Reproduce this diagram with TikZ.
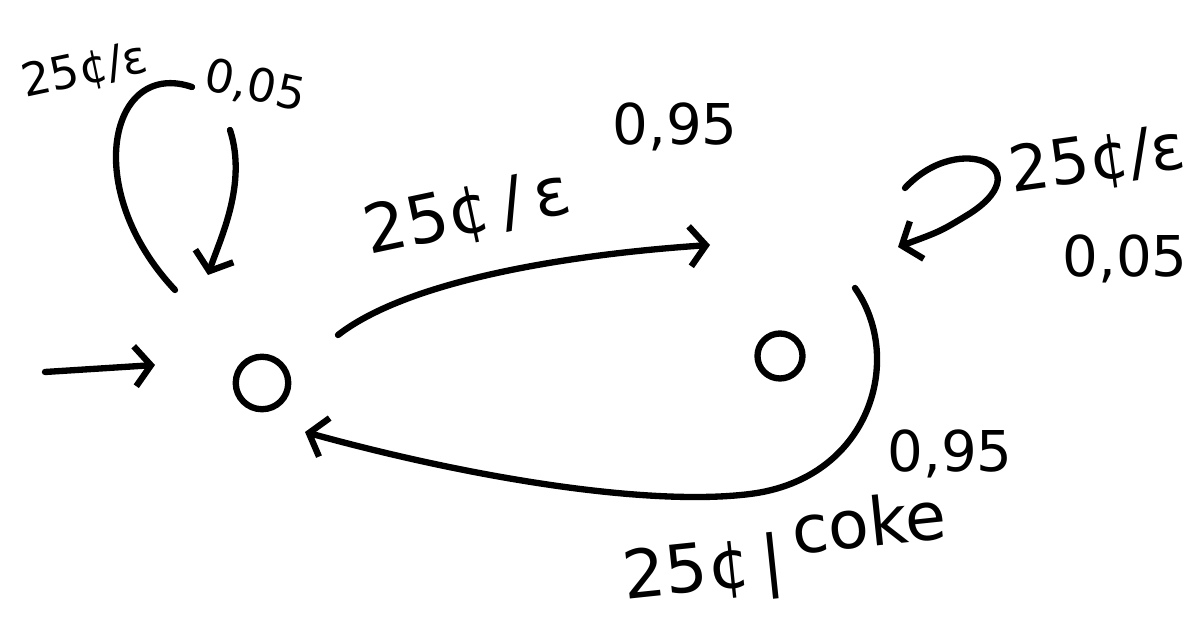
\documentclass[tikz,border=0pt]{standalone}
\usepackage{fontspec}
\setmainfont{DejaVu Sans}
\usetikzlibrary{arrows.meta,positioning,calc}
\tikzset{
  snode/.style={circle, draw, line width=3.6pt, inner sep=0pt},
  tarr/.style={line width=3.6pt, line cap=round, line join=round,
               -{Straight Barb[length=3.2mm, width=8mm, line width=3.6pt]}},
  tline/.style={line width=3.6pt, line cap=round},
  tlab/.style={font=\fontsize{38}{40}\selectfont},
  mlab/.style={font=\fontsize{32}{34}\selectfont},
  slab/.style={font=\fontsize{26}{28}\selectfont},
}

\begin{document}
\begin{tikzpicture}
    \useasboundingbox (0,0) rectangle (24.06,12.38);
    % states
    \node[snode, minimum size=1.05cm] (q0) at (5.24,4.72) {};
    \node[snode, minimum size=0.9cm] (q1) at (15.6,5.26) {};
    % free ends of the hand-drawn arrows
    \coordinate (st) at (0.9,4.94);
    \coordinate (q0in) at (3.1,5.08);
    \coordinate (l0a) at (3.5,6.58);
    \coordinate (l0b) at (3.84,10.64);
    \coordinate (l0c) at (4.6,9.78);
    \coordinate (l0d) at (4.16,6.88);
    \coordinate (q0out) at (6.76,5.68);
    \coordinate (q1in) at (14.2,7.48);
    \coordinate (l1a) at (18.1,8.62);
    \coordinate (l1b) at (17.96,7.44);
    \coordinate (q1out) at (17.1,6.62);
    \coordinate (q0back) at (6.1,3.74);
    % start arrow
    \draw[tarr] (st) -- (q0in);
    % loop on q0
    \draw[tline] (l0a) .. controls (1.6,8.6) and (2.2,11.2) .. (l0b);
    \draw[tarr] (l0c) .. controls (4.95,8.7) and (4.4,7.6) .. (l0d);
    \node[slab, rotate=12] (lab0a) at (1.7,10.95) {25¢/ε};
    \node[slab, rotate=-12] (lab0b) at (5.1,10.65) {0,05};
    % q0 to q1
    \draw[tarr] (q0out) .. controls (8.2,6.8) and (11.5,7.3) .. (q1in);
    \node[tlab, rotate=12] (lab1a) at (9.35,8.1) {25¢\,/\,ε};
    \node[mlab] (lab1b) at (13.5,9.85) {0,95};
    % loop on q1
    \draw[tarr] (l1a) .. controls (19.2,9.8) and (20.9,9.0) .. (19.3,8.05)
      .. controls (18.8,7.75) .. (l1b);
    \node[font=\fontsize{36}{38}\selectfont, rotate=8] (lab2a) at (21.95,9.15) {25¢/ε};
    \node[mlab] (lab2b) at (22.5,7.2) {0,05};
    % q1 back to q0
    \draw[tarr] (q1out) .. controls (18.1,5.2) and (17.4,2.8) .. (15.0,2.5)
      .. controls (13.0,2.25) and (9.5,2.8) .. (q0back);
    \node[mlab] (lab3b) at (19.0,3.3) {0,95};
    \node[tlab, rotate=6] (lab3a) at (15.7,1.35)
      {25¢\,|\,\raisebox{0.4em}{coke}};
\end{tikzpicture}
\end{document}
